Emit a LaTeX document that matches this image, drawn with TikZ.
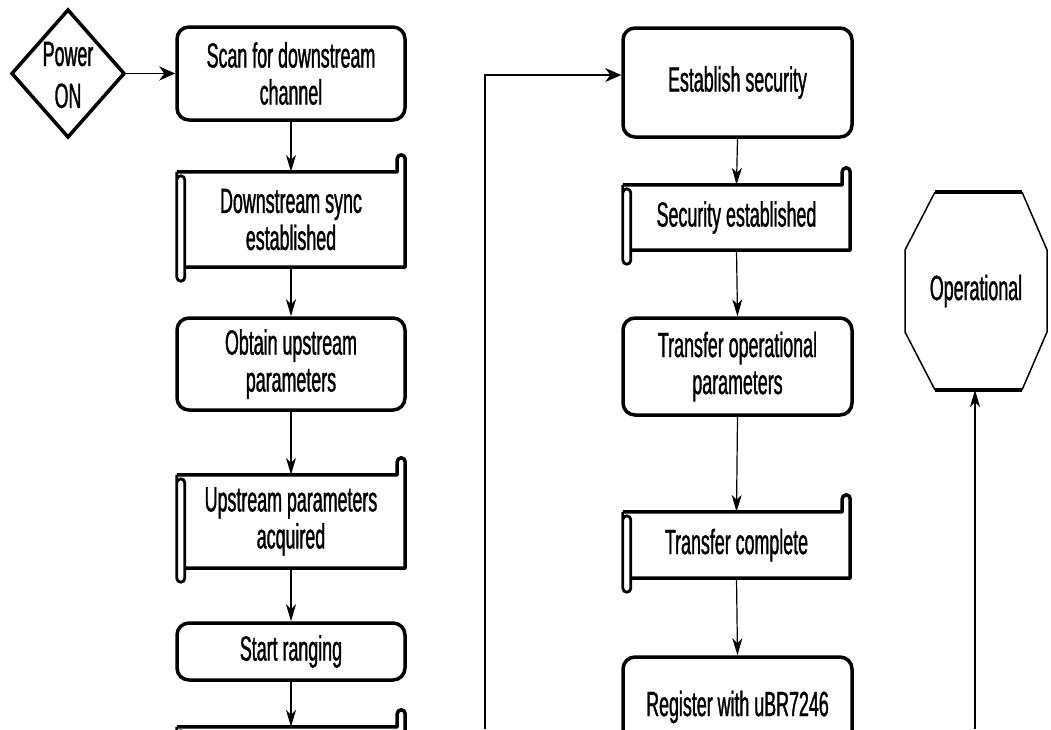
\documentclass[tikz,border=0pt]{standalone}
\usepackage{fontspec}
\setmainfont{Liberation Sans}[FakeStretch=0.51,FakeBold=1]
\usetikzlibrary{arrows.meta}
\tikzset{
  x=1pt, y=1pt,
  lbl/.style={font=\fontsize{35}{37}\selectfont, align=center, inner sep=0pt},
  rbox/.style={lbl, draw, line width=3.5pt, rounded corners=12pt},
  sbox/.style={lbl},
  scrollline/.style={line width=3.5pt, line join=round},
  stripline/.style={line width=2.8pt},
  arr/.style={line width=1.2pt, -{Stealth[length=17pt,width=10pt,inset=5pt]}},
  harr/.style={line width=1.4pt, -{Stealth[length=16pt,width=14pt,inset=5pt]}},
}
\newcommand\scrolldeco[1]{%
  \draw[scrollline] (#1.north west) -- ([xshift=-8pt]#1.north east) -- ++(0,13)
     arc[start angle=180,end angle=0,radius=4] -- (#1.south east) -- ([xshift=8pt]#1.south west);
  \draw[stripline] (#1.north west) -- ([yshift=-10pt]#1.south west)
     arc[start angle=180,end angle=360,radius=4] -- ([xshift=8pt,yshift=-8pt]#1.north west)
     arc[start angle=0,end angle=180,radius=4];
}
\begin{document}
\begin{tikzpicture}
\useasboundingbox (0,0) rectangle (1051,-729);
\clip (0,0) rectangle (1051,-729);

% Power ON diamond
\coordinate (dl) at (12,-73.5);
\coordinate (dt) at (68,-10);
\coordinate (dr) at (124,-73.5);
\coordinate (db) at (68,-137);
\draw[line width=3.5pt, line join=miter] (dl) -- (dt) -- (dr) -- (db) -- cycle;
\node[lbl, font=\fontsize{35}{42}\selectfont] (pw) at (68,-75) {Power\\ON};

% left column
\node[rbox, minimum width=228pt, minimum height=93pt] (b1) at (291,-73.5) {Scan for downstream\\channel};
\node[sbox, minimum width=228pt, minimum height=95pt] (s2) at (291,-219.5) {Downstream sync\\established};
\node[rbox, minimum width=228pt, minimum height=92pt] (b3) at (291,-364) {Obtain upstream\\parameters};
\node[sbox, minimum width=228pt, minimum height=93pt] (s4) at (291,-521.5) {Upstream parameters\\acquired};
\node[rbox, minimum width=228pt, minimum height=57pt] (b5) at (291,-651.5) {Start ranging};
\node[sbox, minimum width=228pt, minimum height=66pt] (s6) at (291,-760) {};
\scrolldeco{s2}
\scrolldeco{s4}
\scrolldeco{s6}

% middle column
\node[rbox, minimum width=229pt, minimum height=109pt] (m1) at (737.5,-82.5) {\raisebox{7pt}{Establish security}};
\node[sbox, minimum width=227pt, minimum height=65pt] (m2) at (736.5,-217.5) {Security established};
\node[rbox, minimum width=229pt, minimum height=97pt] (m3) at (737.5,-366.5) {Transfer operational\\parameters};
\node[sbox, minimum width=227pt, minimum height=66pt] (m4) at (736.5,-545) {Transfer complete};
\node[rbox, minimum width=229pt, minimum height=100pt] (m5) at (737.5,-707) {Register with uBR7246};
\scrolldeco{m2}
\scrolldeco{m4}

% Operational octagon
\coordinate (o1) at (935,-192);
\coordinate (o2) at (1022,-192);
\coordinate (o3) at (1047,-250);
\coordinate (o4) at (1047,-332);
\coordinate (o5) at (1022,-390);
\coordinate (o6) at (935,-390);
\coordinate (o7) at (905,-332);
\coordinate (o8) at (905,-250);
\draw[line width=1.5pt, line join=miter] (o2) -- (o3) -- (o4) -- (o5);
\draw[line width=1.5pt, line join=miter] (o6) -- (o7) -- (o8) -- (o1);
\draw[line width=3.5pt] (o1) -- (o2);
\draw[line width=3.5pt] (o5) -- (o6);
\node[lbl] (op) at (976,-291) {Operational};
\coordinate (opb) at (975,-390);

% connectors
\draw[harr] (dr) -- (b1.west);
\draw[arr] (b1.south) -- (s2.north);
\draw[arr] (s2.south) -- (b3.north);
\draw[arr] (b3.south) -- (s4.north);
\draw[arr] (s4.south) -- (b5.north);
\draw[arr] (b5.south) -- (s6.north);

\coordinate (c1) at (485,-729);
\coordinate (c1t) at (485,-75);
\draw[harr] (c1) -- (c1t) -- (c1t -| m1.west);
\draw[arr] (m1.south) -- (m2.north);
\draw[arr] (m2.south) -- (m3.north);
\draw[arr] (m3.south) -- (m4.north);
\draw[arr] (m4.south) -- (m5.north);

\coordinate (c3) at (975,-729);
\draw[arr] (c3) -- (opb);
\end{tikzpicture}
\end{document}
